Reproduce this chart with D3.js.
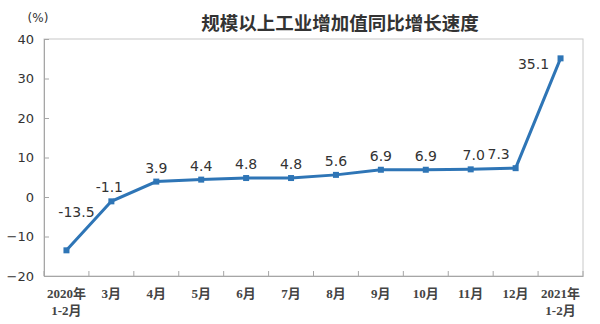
<!DOCTYPE html>
<html><head><meta charset="utf-8">
<script src="https://cdn.jsdelivr.net/npm/d3@7"></script>
<style>body{margin:0;background:#fff}</style>
</head><body>
<svg id="c" width="600" height="324"></svg>
<script>
const categories = [["2020年","1-2月"],["3月"],["4月"],["5月"],["6月"],["7月"],["8月"],["9月"],["10月"],["11月"],["12月"],["2021年","1-2月"]];
const values = [-13.5,-1.1,3.9,4.4,4.8,4.8,5.6,6.9,6.9,7.0,7.3,35.1];
const labels = ["-13.5","-1.1","3.9","4.4","4.8","4.8","5.6","6.9","6.9","7.0","7.3","35.1"];
const labelShiftX = [10,-2,0,0,0,0,0,0,0,3,-17,-27];
const labelShiftY = [-33,-9,-9,-9,-9,-9,-9,-9,-9,-9,-9,11];
const yTicks = [-20,-10,0,10,20,30,40];
const title = "规模以上工业增加值同比增长速度";

const svg = d3.select("#c");
const L=44,R=583,T=39,B=276;
const x = d3.scaleBand().domain(d3.range(categories.length)).range([L,R]);
const y = d3.scaleLinear().domain([-20,40]).range([B,T]);
const grey="#a6a6a6", txt="#333";

// frame
svg.append("rect").attr("x",L).attr("y",T).attr("width",R-L).attr("height",B-T)
  .attr("fill","none").attr("stroke","#c8c8c8").attr("stroke-width",1);

// y axis
const ya = svg.append("g").attr("transform",`translate(${L},0)`)
  .call(d3.axisLeft(y).tickValues(yTicks).tickSize(-5).tickPadding(10).tickFormat(d3.format("d")));
ya.select(".domain").attr("stroke",grey);
ya.selectAll(".tick line").attr("stroke",grey);
ya.selectAll("text").attr("font-family","'DejaVu Sans',sans-serif").attr("font-size",13).attr("fill",txt);

// x axis
const xa = svg.append("g").attr("transform",`translate(0,${B})`)
  .call(d3.axisBottom(x).tickSize(0).tickFormat(""));
xa.select(".domain").attr("stroke",grey);
const tickPos = d3.range(categories.length+1).map(i=> i<categories.length ? x(i) : R);
svg.append("g").selectAll("line").data(tickPos).join("line")
  .attr("x1",d=>d).attr("x2",d=>d).attr("y1",B).attr("y2",B-5).attr("stroke",grey);
const xl = svg.append("g").selectAll("text").data(categories).join("text")
  .attr("x",(d,i)=>x(i)+x.bandwidth()/2).attr("y",298)
  .attr("text-anchor","middle").attr("font-family","'Liberation Serif','Noto Sans CJK SC',serif")
  .attr("font-size",13).attr("font-weight","bold").attr("fill","#444");
xl.each(function(d){
  const t=d3.select(this);
  d.forEach((s,k)=>t.append("tspan").attr("x",t.attr("x")).attr("dy",k?17:0).text(s));
});

// line
const cx = i=> x(i)+x.bandwidth()/2;
svg.append("path").datum(values)
  .attr("d",d3.line().x((d,i)=>cx(i)).y(d=>y(d)))
  .attr("fill","none").attr("stroke","#2e75b6").attr("stroke-width",3);
svg.append("g").selectAll("rect").data(values).join("rect")
  .attr("x",(d,i)=>cx(i)-3).attr("y",d=>y(d)-3).attr("width",6).attr("height",6)
  .attr("fill","#2e75b6");

// value labels
svg.append("g").selectAll("text").data(values).join("text")
  .attr("x",(d,i)=>cx(i)+labelShiftX[i]).attr("y",(d,i)=>y(d)+labelShiftY[i])
  .attr("text-anchor","middle").attr("font-family","'DejaVu Sans',sans-serif")
  .attr("font-size",14).attr("fill",txt).text((d,i)=>labels[i]);

// title & unit
svg.append("text").attr("x",340).attr("y",30).attr("text-anchor","middle")
  .attr("font-family","'Noto Sans CJK SC',sans-serif").attr("font-size",18.5).attr("font-weight","bold")
  .attr("fill",txt).text(title);
svg.append("text").attr("x",38).attr("y",22).attr("text-anchor","middle")
  .attr("font-family","'DejaVu Sans',sans-serif").attr("font-size",12).attr("fill",txt).text("(%)");
</script>
</body></html>
